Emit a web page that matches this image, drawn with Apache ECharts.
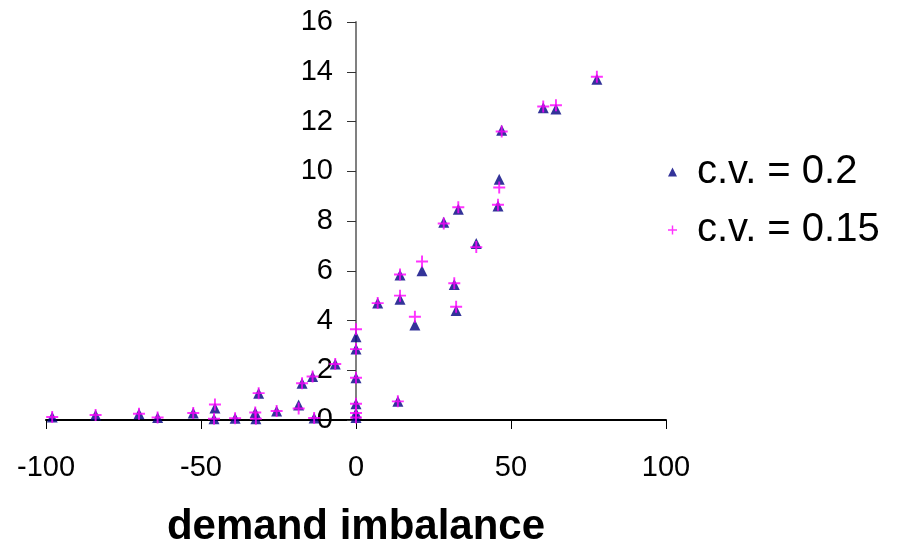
<!DOCTYPE html>
<html>
<head>
<meta charset="utf-8">
<script src="https://cdn.jsdelivr.net/npm/echarts@6/dist/echarts.min.js"></script>
<style>
  html, body { margin: 0; padding: 0; background: #fff; }
  #chart { width: 899px; height: 548px; }
</style>
</head>
<body>
<div id="chart"></div>
<script>
// Demand imbalance (x) against response (y) for two coefficients of variation
var seriesNames = ['c.v. = 0.2', 'c.v. = 0.15'];
var xTicks = { min: -100, max: 100, interval: 50 };
var yTicks = { min: 0, max: 16, interval: 2 };

var imbalance = [
  -98, -84, -70, -64, -52.5, -45.5, -45.8, -39, -32.5, -32.3,
  -31.4, -25.6, -18.5, -17.4, -14, -13.5, -6.7, 0, 0, 0,
  0, 0, 0, 7, 13.5, 14.2, 14.2, 19, 21.3, 28.3,
  31.7, 32.3, 33, 38.8, 45.8, 46.2, 47, 60.4, 64.5, 77.7
];
var cv020 = [
  0.12, 0.2, 0.25, 0.1, 0.28, 0.48, 0.05, 0.07, 0.3, 0.05,
  1.08, 0.36, 0.6, 1.48, 1.75, 0.08, 2.25, 3.35, 2.85, 1.7,
  0.65, 0.28, 0.1, 4.7, 0.75, 4.85, 5.83, 3.82, 6.0, 7.95,
  5.45, 4.4, 8.47, 7.1, 8.6, 9.68, 11.65, 12.55, 12.5, 13.7
];
var cv015 = [
  0.12, 0.2, 0.25, 0.1, 0.28, 0.62, 0.05, 0.07, 0.3, 0.05,
  1.08, 0.36, 0.46, 1.48, 1.75, 0.08, 2.25, 3.65, 2.85, 1.7,
  0.65, 0.28, 0.1, 4.7, 0.75, 5.0, 5.85, 4.15, 6.37, 7.9,
  5.5, 4.55, 8.55, 6.95, 8.65, 9.35, 11.6, 12.6, 12.65, 13.8
];

function pairs(xs, ys) {
  return xs.map(function (x, i) { return [x, ys[i]]; });
}

var plusSymbol = 'path://M4.2,0H5.8V4.2H10V5.8H5.8V10H4.2V5.8H0V4.2H4.2Z';
var fontFamily = '"Liberation Sans", Arial, sans-serif';

var chartWidth = 899;
var grid = { left: 46, right: 233, top: 22, bottom: 128 };
// The y axis crosses the x axis at zero: shift it from the grid's left edge
// to where x = 0 falls on the horizontal scale.
var plotWidth = chartWidth - grid.left - grid.right;
var yAxisShift = (0 - xTicks.min) / (xTicks.max - xTicks.min) * plotWidth;

var chart = echarts.init(document.getElementById('chart'), null, { renderer: 'canvas' });
chart.setOption({
  animation: false,
  backgroundColor: '#ffffff',
  grid: {
    left: grid.left, right: grid.right, top: grid.top, bottom: grid.bottom,
    containLabel: false, outerBoundsMode: 'none'
  },
  legend: {
    orient: 'vertical',
    left: 663,
    top: 147,
    itemWidth: 9,
    itemHeight: 9,
    itemGap: 18,
    data: seriesNames,
    textStyle: { fontFamily: fontFamily, fontSize: 40, color: '#000', lineHeight: 40, padding: [0, 0, 0, 15] }
  },
  xAxis: {
    type: 'value',
    min: xTicks.min,
    max: xTicks.max,
    interval: xTicks.interval,
    name: 'demand imbalance',
    nameLocation: 'middle',
    nameGap: 86,
    nameTextStyle: { fontFamily: fontFamily, fontSize: 42, fontWeight: 'bold', color: '#000' },
    axisLine: { onZero: false, lineStyle: { color: '#000', width: 2 } },
    axisTick: { show: true, length: 9, lineStyle: { color: '#000', width: 1 } },
    axisLabel: { margin: 33, fontFamily: fontFamily, fontSize: 29, color: '#000' },
    splitLine: { show: false }
  },
  yAxis: {
    type: 'value',
    min: yTicks.min,
    max: yTicks.max,
    interval: yTicks.interval,
    offset: -yAxisShift,
    axisLine: { show: true, onZero: false, lineStyle: { color: '#808080', width: 2 } },
    axisTick: { show: true, length: 9, lineStyle: { color: '#333', width: 1 } },
    axisLabel: { margin: 23, fontFamily: fontFamily, fontSize: 29, color: '#000' },
    splitLine: { show: false }
  },
  series: [
    {
      name: seriesNames[0],
      type: 'scatter',
      symbol: 'triangle',
      symbolSize: [11, 11],
      itemStyle: { color: '#000080' },
      data: pairs(imbalance, cv020)
    },
    {
      name: seriesNames[1],
      type: 'scatter',
      symbol: plusSymbol,
      symbolSize: 12,
      itemStyle: { color: '#ff00ff' },
      data: pairs(imbalance, cv015)
    }
  ]
});
</script>
</body>
</html>
